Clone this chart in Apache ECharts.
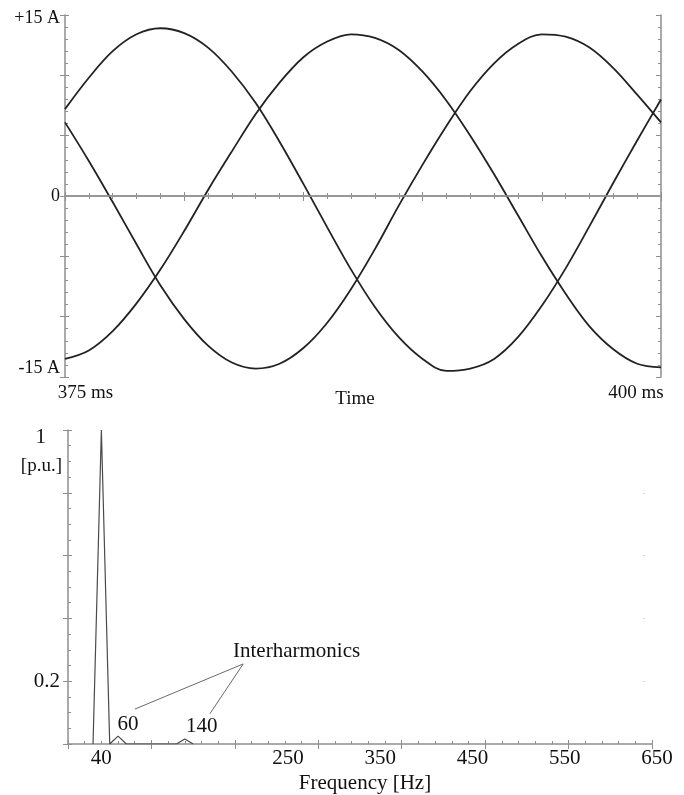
<!DOCTYPE html>
<html>
<head>
<meta charset="utf-8">
<title>Three-phase current and spectrum</title>
<script src="https://cdn.jsdelivr.net/npm/echarts@6/dist/echarts.min.js"></script>
<style>
  html, body { margin: 0; padding: 0; background: #ffffff; }
  #chart { width: 684px; height: 795px; }
</style>
</head>
<body>
<div id="chart"></div>
<script>
// Phase currents between 375 ms and 400 ms, one sample per millisecond (A)
const timeMs = [375, 376, 377, 378, 379, 380, 381, 382, 383, 384, 385, 386, 387,
                388, 389, 390, 391, 392, 393, 394, 395, 396, 397, 398, 399, 400];
const phaseA = [7.2, 9.8, 12.0, 13.4, 13.9, 13.5, 12.3, 10.3, 7.7, 4.5, 1.0, -2.6, -6.1,
                -9.2, -11.7, -13.5, -14.5, -14.3, -13.5, -11.7, -9.1, -6.0, -2.5, 1.1, 4.6, 8.0];
const phaseB = [6.1, 2.9, -0.5, -4.0, -7.4, -10.2, -12.4, -13.8, -14.3, -13.9, -12.6, -10.5, -7.7,
                -4.4, -0.8, 2.6, 5.8, 8.7, 11.0, 12.6, 13.4, 13.2, 12.3, 10.6, 8.4, 6.1];
const phaseC = [-13.5, -12.8, -11.2, -8.9, -6.1, -2.9, 0.5, 3.7, 6.8, 9.4, 11.5, 12.8, 13.4,
                13.1, 12.1, 10.3, 7.9, 5.0, 1.8, -1.6, -5.0, -8.1, -10.8, -12.7, -13.9, -14.2];
const timeTickValues = [375, 400];
const timeTickLabels = ['375 ms', '400 ms'];
const currentTickValues = [-15, 0, 15];
const currentTickLabels = ['-15 A', '0', '+15 A'];

// Current spectrum in per unit of the 40 Hz fundamental
const freqHz = [30, 40, 50, 60, 70, 80, 90, 100, 110, 120, 130, 140, 150];
const amplitudePu = [0, 1, 0, 0.025, 0, 0, 0, 0, 0, 0, 0, 0.016, 0];
const interharmonicHz = [60, 140];
const freqTickValues = [40];
const freqTickLabels = ['40'];
const freqScaleValues = [250, 350, 450, 550, 650];
const freqScaleLabels = ['250', '350', '450', '550', '650'];
const ampTickValues = [0.2, 1];
const ampTickLabels = ['0.2', '1'];

const FONT = 'Liberation Serif';
const INK = '#111111';
const FRAME = '#8e8e8e';
const TRACE = '#222222';
const TOP_SIZE = 19;
const BOTTOM_SIZE = 21;

const pairs = (xs, ys) => xs.map((x, i) => [x, ys[i]]);
const labelFor = (values, labels, v) => labels[values.indexOf(v)];

// An axis that only carries the inward tick marks of a frame side
function tickSide(base, minorSplit, majorLen) {
  return Object.assign({
    axisLine: { show: false },
    axisLabel: { show: false },
    splitLine: { show: false },
    axisTick: { show: true, inside: true, length: majorLen, lineStyle: { color: FRAME, width: 1 } },
    minorTick: { show: true, splitNumber: minorSplit, length: 3, lineStyle: { color: FRAME, width: 1 } },
    minorSplitLine: { show: false }
  }, base);
}

const frameLine = { show: true, lineStyle: { color: FRAME, width: 1.5 } };
const outerTick = { show: true, inside: false, length: 5, lineStyle: { color: FRAME, width: 1 } };

const phaseSeries = (data, withZero) => ({
  type: 'line',
  xAxisIndex: 0,
  yAxisIndex: 0,
  data: data,
  smooth: 0.35,
  showSymbol: false,
  silent: true,
  lineStyle: { color: TRACE, width: 1.8 },
  z: 3,
  markLine: withZero ? {
    silent: true,
    symbol: ['none', 'none'],
    label: { show: false },
    lineStyle: { color: '#9a9a9a', width: 1.5, type: 'solid' },
    data: [{ yAxis: 0 }]
  } : undefined
});

const spectrumPairs = pairs(freqHz, amplitudePu);
const interharmonicPoints = interharmonicHz.map(f => spectrumPairs[freqHz.indexOf(f)]);
const interharmonicOffsets = [[10, -12], [17, -12]];

const option = {
  animation: false,
  backgroundColor: '#ffffff',
  textStyle: { fontFamily: FONT, color: INK },
  grid: [
    { left: 65, top: 15, width: 596, height: 362 },
    { left: 68, top: 430, width: 584, height: 314 },
    { left: 241.9, top: 430, width: 438.2, height: 314 }
  ],
  xAxis: [
    {
      gridIndex: 0, type: 'value', min: 375, max: 400, interval: 5, position: 'bottom',
      axisLine: frameLine, axisTick: outerTick, splitLine: { show: false },
      axisLabel: {
        customValues: timeTickValues,
        margin: 7,
        fontFamily: FONT, fontSize: TOP_SIZE, color: INK,
        formatter: v => {
          const s = labelFor(timeTickValues, timeTickLabels, v);
          return v === timeTickValues[0] ? '{first|' + s + '}' : '{last|' + s + '}';
        },
        rich: {
          first: { fontFamily: FONT, fontSize: TOP_SIZE, color: INK, padding: [0, 0, 0, 41] },
          last: { fontFamily: FONT, fontSize: TOP_SIZE, color: INK, padding: [0, 50, 0, 0] }
        }
      },
      name: 'Time', nameLocation: 'middle', nameGap: 13, nameMoveOverlap: false,
      nameTextStyle: { fontFamily: FONT, fontSize: TOP_SIZE, color: INK, padding: [0, 16, 0, 0] }
    },
    tickSide({ gridIndex: 0, type: 'value', min: 375, max: 400, interval: 5, position: 'bottom' }, 5, 4),
    Object.assign(tickSide({ gridIndex: 0, type: 'value', min: 375, max: 400, interval: 5, position: 'top' }, 5, 5),
      { axisLine: frameLine }),
    {
      gridIndex: 1, type: 'value', min: 0, max: 700, interval: 100, position: 'bottom',
      axisLine: frameLine, axisTick: outerTick, splitLine: { show: false },
      axisLabel: {
        customValues: freqTickValues, margin: 4,
        fontFamily: FONT, fontSize: BOTTOM_SIZE, color: INK,
        formatter: v => labelFor(freqTickValues, freqTickLabels, v)
      },
      name: 'Frequency [Hz]', nameLocation: 'middle', nameGap: 29, nameMoveOverlap: false,
      nameTextStyle: { fontFamily: FONT, fontSize: BOTTOM_SIZE, color: INK, padding: [0, 0, 0, 10] }
    },
    tickSide({ gridIndex: 1, type: 'value', min: 0, max: 700, interval: 100, position: 'bottom' }, 5, 4),
    {
      gridIndex: 2, type: 'value', min: 200, max: 675, position: 'bottom',
      axisLine: { show: false }, axisTick: { show: false }, splitLine: { show: false },
      axisLabel: {
        customValues: freqScaleValues, margin: 4,
        fontFamily: FONT, fontSize: BOTTOM_SIZE, color: INK,
        formatter: v => labelFor(freqScaleValues, freqScaleLabels, v)
      }
    }
  ],
  yAxis: [
    {
      gridIndex: 0, type: 'value', min: -15, max: 15, interval: 5, position: 'left',
      axisLine: frameLine, axisTick: outerTick, splitLine: { show: false },
      axisLabel: {
        customValues: currentTickValues, margin: 5,
        fontFamily: FONT, fontSize: 18, color: INK,
        formatter: v => {
          const s = labelFor(currentTickValues, currentTickLabels, v);
          if (v === 15) return '{hi|' + s + '}';
          if (v === -15) return '{lo|' + s + '}';
          return s;
        },
        rich: {
          hi: { fontFamily: FONT, fontSize: 18, color: INK, padding: [6, 0, 0, 0] },
          lo: { fontFamily: FONT, fontSize: 18, color: INK, padding: [0, 0, 18, 0] }
        }
      }
    },
    tickSide({ gridIndex: 0, type: 'value', min: -15, max: 15, interval: 5, position: 'left' }, 5, 4),
    Object.assign(tickSide({ gridIndex: 0, type: 'value', min: -15, max: 15, interval: 5, position: 'right' }, 5, 5),
      { axisLine: frameLine }),
    {
      gridIndex: 1, type: 'value', min: 0, max: 1, interval: 0.2, position: 'left',
      axisLine: frameLine, axisTick: outerTick, splitLine: { show: false },
      axisLabel: {
        customValues: ampTickValues, margin: 8,
        fontFamily: FONT, fontSize: BOTTOM_SIZE, color: INK,
        formatter: v => {
          const s = labelFor(ampTickValues, ampTickLabels, v);
          return v === 1 ? '{top|' + s + '}' : s;
        },
        rich: {
          top: { fontFamily: FONT, fontSize: BOTTOM_SIZE, color: INK, padding: [14, 14, 0, 0] }
        }
      },
      name: '[p.u.]', nameLocation: 'end', nameGap: -36, nameMoveOverlap: false,
      nameTextStyle: { fontFamily: FONT, fontSize: 19, color: INK, align: 'right', verticalAlign: 'middle', padding: [0, 6, 0, 0] }
    },
    tickSide({ gridIndex: 1, type: 'value', min: 0, max: 1, interval: 0.2, position: 'left' }, 4, 4),
    {
      gridIndex: 1, type: 'value', min: 0, max: 1, interval: 0.2, position: 'right', offset: -7,
      axisLine: { show: false }, axisLabel: { show: false }, splitLine: { show: false },
      axisTick: { show: true, inside: true, length: 1.5, customValues: [0.2, 0.4, 0.6, 0.8],
                  lineStyle: { color: '#c8c8c8', width: 1 } }
    },
    { gridIndex: 2, type: 'value', min: 0, max: 1, show: false }
  ],
  series: [
    phaseSeries(pairs(timeMs, phaseA), true),
    phaseSeries(pairs(timeMs, phaseB), false),
    phaseSeries(pairs(timeMs, phaseC), false),
    {
      type: 'line',
      xAxisIndex: 3,
      yAxisIndex: 3,
      data: spectrumPairs,
      showSymbol: false,
      silent: true,
      lineStyle: { color: '#4a4a4a', width: 1.2 },
      z: 3,
      markPoint: {
        silent: true,
        symbol: 'circle',
        symbolSize: 1,
        itemStyle: { color: 'rgba(0,0,0,0)' },
        data: interharmonicPoints.map((p, i) => ({
          coord: p,
          label: {
            show: true, position: 'inside', offset: interharmonicOffsets[i],
            formatter: String(p[0]), fontFamily: FONT, fontSize: BOTTOM_SIZE, color: INK
          }
        })).concat([{
          coord: [274, 0.294],
          label: {
            show: true, position: 'inside', formatter: 'Interharmonics',
            fontFamily: FONT, fontSize: BOTTOM_SIZE, color: INK
          }
        }])
      },
      markLine: {
        silent: true,
        symbol: ['none', 'none'],
        label: { show: false },
        lineStyle: { color: '#6a6a6a', width: 1, type: 'solid' },
        data: [
          [{ coord: [210, 0.255] }, { coord: [80, 0.111] }],
          [{ coord: [210, 0.255] }, { coord: [170, 0.096] }]
        ]
      }
    }
  ]
};

const chart = echarts.init(document.getElementById('chart'), null, { renderer: 'canvas' });
chart.setOption(option);
</script>
</body>
</html>
